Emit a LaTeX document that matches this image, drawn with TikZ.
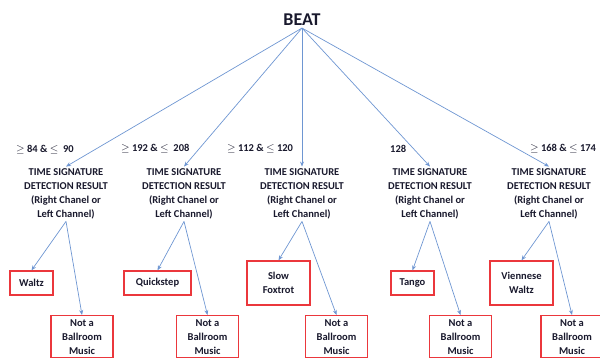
\documentclass[tikz,border=0pt]{standalone}
\usepackage{fontspec}
\setmainfont{Carlito}
\usetikzlibrary{arrows.meta, positioning}

\definecolor{linkblue}{RGB}{110,150,210}
\definecolor{boxred}{RGB}{235,55,60}
\definecolor{inkdark}{RGB}{25,25,45}

\begin{document}
\begin{tikzpicture}[
    x=1pt, y=-1pt,
    every node/.style={font=\bfseries\fontsize{10.5}{14}\selectfont, text=inkdark},
    head/.style={font=\bfseries\fontsize{18}{20}\selectfont, inner sep=2pt},
    detect/.style={align=center, inner sep=2pt},
    tempo/.style={anchor=west, inner sep=0pt},
    genre/.style={rectangle, draw=boxred, line width=1.3pt, fill=white, align=center, minimum height=24pt},
    notbox/.style={rectangle, draw=boxred, line width=1.3pt, fill=white, align=center, anchor=north, minimum width=62pt, minimum height=42pt, inner sep=2pt},
    line/.style={-{Stealth[length=5pt, width=4pt]}, linkblue, line width=0.7pt}
]
\useasboundingbox (0,0) rectangle (600,358);

% Root
\node[head] (beat) at (302,20) {BEAT};

% Detection results
\node[detect] (d1) at (66,194) {TIME SIGNATURE\\DETECTION RESULT\\(Right Chanel or\\Left Channel)};
\node[detect] (d2) at (184,194) {TIME SIGNATURE\\DETECTION RESULT\\(Right Chanel or\\Left Channel)};
\node[detect] (d3) at (302,194) {TIME SIGNATURE\\DETECTION RESULT\\(Right Chanel or\\Left Channel)};
\node[detect] (d4) at (430,194) {TIME SIGNATURE\\DETECTION RESULT\\(Right Chanel or\\Left Channel)};
\node[detect] (d5) at (549,194) {TIME SIGNATURE\\DETECTION RESULT\\(Right Chanel or\\Left Channel)};

% Tempo ranges
\node[tempo] (lab1) at (16,150) {$\geq$ 84 \& $\leq$\ \ 90};
\node[tempo] (lab2) at (121,149) {$\geq$ 192 \& $\leq$\ \ 208};
\node[tempo] (lab3) at (227,149) {$\geq$ 112 \& $\leq$\ 120};
\node[tempo] (lab4) at (390,149) {128};
\node[tempo] (lab5) at (530,149) {$\geq$ 168 \& $\leq$\ 174};

% Dances
\node[genre, minimum width=43pt] (waltz) at (31.5,283) {Waltz};
\node[genre, minimum width=67pt] (quick) at (157.5,283) {Quickstep};
\node[genre, minimum width=63pt, minimum height=44pt] (slow) at (278.5,283) {Slow\\Foxtrot};
\node[genre, minimum width=43pt] (tango) at (412.5,283) {Tango};
\node[genre, minimum width=63pt, minimum height=44pt] (vienna) at (521.5,283) {Viennese\\Waltz};

% Not a ballroom music
\node[notbox] (n1) at (82,315) {Not a\\Ballroom\\Music};
\node[notbox] (n2) at (207.5,315) {Not a\\Ballroom\\Music};
\node[notbox] (n3) at (336.5,315) {Not a\\Ballroom\\Music};
\node[notbox] (n4) at (460.5,315) {Not a\\Ballroom\\Music};
\node[notbox] (n5) at (572,315) {Not a\\Ballroom\\Music};

% Links
\foreach \d in {d1,d2,d3,d4,d5}
    \draw[line] (beat.south) -- (\d.north);

\draw[line] (d1.south) -- (waltz.north);
\draw[line] (d1.south) -- (n1.north);
\draw[line] (d2.south) -- (quick.north);
\draw[line] (d2.south) -- (n2.north);
\draw[line] (d3.south) -- (slow.north);
\draw[line] (d3.south) -- (n3.north);
\draw[line] (d4.south) -- (tango.north);
\draw[line] (d4.south) -- (n4.north);
\draw[line] (d5.south) -- (vienna.north);
\draw[line] (d5.south) -- (n5.north);

\end{tikzpicture}
\end{document}
